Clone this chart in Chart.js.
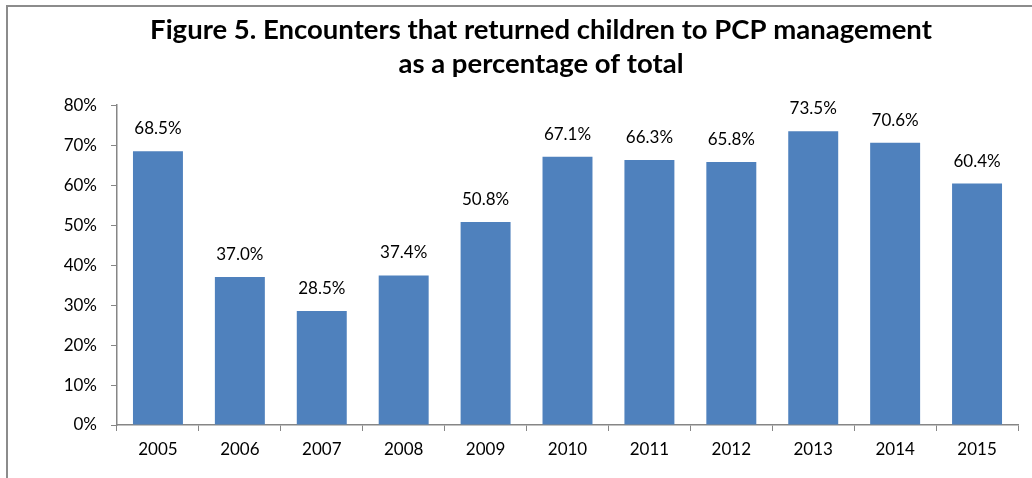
<!DOCTYPE html>
<html>
<head>
<meta charset="utf-8">
<script src="https://cdn.jsdelivr.net/npm/chart.js@4.4.1/dist/chart.umd.min.js"></script>
<style>
  html, body { margin: 0; padding: 0; background: #fff; }
  #frame {
    position: absolute; left: 6px; top: 5px; width: 1026px; height: 473px;
    border-left: 2px solid #8c8c8c; border-top: 2px solid #8c8c8c;
    box-sizing: border-box;
  }
  #wrap { position: absolute; left: 0; top: 0; width: 1032px; height: 478px; }
</style>
</head>
<body>
<div id="frame"></div>
<div id="wrap"><canvas id="pcp_graph"></canvas></div>
<script>
var years = ["2005", "2006", "2007", "2008", "2009", "2010", "2011", "2012", "2013", "2014", "2015"];
var percents = [68.5, 37.0, 28.5, 37.4, 50.8, 67.1, 66.3, 65.8, 73.5, 70.6, 60.4];
var titleLines = [
    "Figure 5. Encounters that returned children to PCP management",
    "as a percentage of total"
];

var fontFamily = "Lato, 'Open Sans', sans-serif";
var axisColor = "#868686";

// labels above each bar, like Excel data labels
var barLabels = {
    id: 'barLabels',
    afterDatasetsDraw: function (chart) {
        var ctx = chart.ctx;
        var meta = chart.getDatasetMeta(0);
        ctx.save();
        ctx.font = "17px " + fontFamily;
        ctx.fillStyle = "#000";
        ctx.textAlign = "center";
        ctx.textBaseline = "bottom";
        meta.data.forEach(function (bar, i) {
            ctx.fillText(percents[i].toFixed(1) + "%", bar.x, bar.y - 14);
        });
        ctx.restore();
    }
};

var config = {
    type: 'bar',
    data: {
        labels: years,
        datasets: [{
            data: percents,
            backgroundColor: "#4F81BD",
            borderWidth: 0,
            categoryPercentage: 0.61,
            barPercentage: 1.0
        }]
    },
    options: {
        responsive: false,
        animation: false,
        layout: { padding: { left: 64, right: 14, top: 8, bottom: 0 } },
        plugins: {
            legend: { display: false },
            tooltip: { enabled: false },
            title: {
                display: true,
                text: titleLines,
                color: "#000",
                font: { family: fontFamily, size: 27.5, weight: 'bold', lineHeight: 1.24 },
                padding: { top: 5, bottom: 24 }
            }
        },
        scales: {
            x: {
                grid: { drawOnChartArea: false, drawTicks: true, tickLength: 6, color: axisColor, offset: true },
                border: { color: axisColor, width: 1.5 },
                ticks: { color: "#000", font: { family: fontFamily, size: 17 }, padding: 8, maxRotation: 0 },
                afterFit: function (scale) { scale.height = 53; }
            },
            y: {
                min: 0,
                max: 80,
                grid: { drawOnChartArea: false, drawTicks: true, tickLength: 6, color: axisColor },
                border: { color: axisColor, width: 1.5 },
                ticks: {
                    stepSize: 10,
                    color: "#000",
                    font: { family: fontFamily, size: 17 },
                    padding: 14,
                    callback: function (v) { return v + "%"; }
                },
                afterFit: function (scale) { scale.width = 53; }
            }
        }
    },
    plugins: [barLabels]
};

var canvas = document.getElementById("pcp_graph");
canvas.width = 1032;
canvas.height = 478;
var ctx = canvas.getContext("2d");
new Chart(ctx, config);
</script>
</body>
</html>
